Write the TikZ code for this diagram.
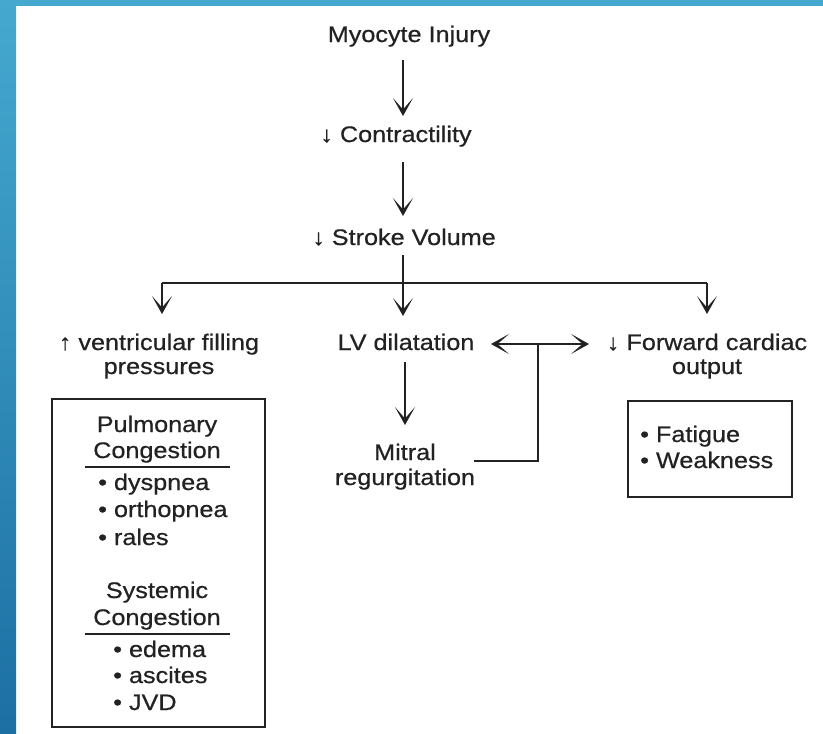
\documentclass[tikz,border=0pt]{standalone}
\usepackage{fontspec}
\setmainfont{Liberation Sans}[FakeStretch=1.12,FakeBold=0.6]
\usetikzlibrary{arrows.meta}
\definecolor{ink}{HTML}{222222}
\definecolor{bluetop}{HTML}{45A9CF}
\definecolor{bluebot}{HTML}{1C6FA3}
\newcommand\dfont{\fontsize{22.5}{26}\selectfont}
\tikzset{
  tip/.tip={Stealth[length=18pt,width=20pt,inset=11.5pt]},
  txt/.style={inner sep=0pt, anchor=base, font=\dfont, text=ink},
  ltxt/.style={txt, anchor=base west},
  arr/.style={draw=ink, line width=2.3pt, -tip},
  darr/.style={draw=ink, line width=2.3pt, tip-tip},
  conn/.style={draw=ink, line width=2.3pt},
  boxstyle/.style={draw=ink, line width=2.6pt},
  rule/.style={draw=ink, line width=2.6pt}
}
\begin{document}
\begin{tikzpicture}[x=1pt,y=-1pt]
\useasboundingbox (0,0) rectangle (823,734);
\fill[white] (0,0) rectangle (823,734);
% blue frame
\fill[bluetop] (0,0) rectangle (823,6);
\shade[top color=bluetop, bottom color=bluebot] (0,0) rectangle (16,734);

% main column
\node[txt] (myo) at (409,42) {Myocyte Injury};
\node[txt] (con) at (396,142) {↓ Contractility};
\node[txt] (sv) at (404,245) {↓ Stroke Volume};

\coordinate (a1s) at (403,60);  \coordinate (a1e) at (403,116);
\coordinate (a2s) at (403,162); \coordinate (a2e) at (403,216);
\coordinate (svb) at (403,255);
\coordinate (bm) at (403,283);
\coordinate (bl) at (162,283);
\coordinate (br) at (707,283);
\coordinate (tl) at (162,314);
\coordinate (tm) at (403,316);
\coordinate (tr) at (707,314);

\draw[arr] (a1s) -- (a1e);
\draw[arr] (a2s) -- (a2e);
\draw[conn] (svb) -- (bm);
\draw[conn] (bl) -- (br);
\draw[arr] (bl) -- (tl);
\draw[arr] (bm) -- (tm);
\draw[arr] (br) -- (tr);

% second row
\node[txt] (vf1) at (159,350) {↑ ventricular filling};
\node[txt] (vf2) at (159,374) {pressures};
\node[txt] (lv) at (406,350) {LV dilatation};
\node[txt] (fc1) at (707,350) {↓ Forward cardiac};
\node[txt] (fc2) at (707,374) {output};
\node[txt] (mr1) at (405,460) {Mitral};
\node[txt] (mr2) at (405,485) {regurgitation};

\coordinate (lvs) at (405,362);
\coordinate (lve) at (405,425);
\coordinate (dl) at (491,344);
\coordinate (dr) at (589,344);
\coordinate (jn) at (538,344);
\coordinate (mrs) at (474,461);
\coordinate (mrc) at (538,461);

\draw[arr] (lvs) -- (lve);
\draw[darr] (dl) -- (dr);
\draw[conn] (mrs) -- (mrc) -- (jn);

% left box
\node[boxstyle, minimum width=213pt, minimum height=328pt, inner sep=0pt] (lbox) at (158.5,563) {};
\node[txt] (pul1) at (157,432) {Pulmonary};
\node[txt] (pul2) at (157,458) {Congestion};
\coordinate (u1l) at (85,467); \coordinate (u1r) at (230,467);
\draw[rule] (u1l) -- (u1r);
\node[ltxt] (b1) at (98,490) {• dyspnea};
\node[ltxt] (b2) at (98,517) {• orthopnea};
\node[ltxt] (b3) at (98,545) {• rales};
\node[txt] (sys1) at (157,598) {Systemic};
\node[txt] (sys2) at (157,625) {Congestion};
\coordinate (u2l) at (85,634); \coordinate (u2r) at (230,634);
\draw[rule] (u2l) -- (u2r);
\node[ltxt] (b4) at (113,657) {• edema};
\node[ltxt] (b5) at (113,683) {• ascites};
\node[ltxt] (b6) at (113,710) {• JVD};

% right box
\node[boxstyle, minimum width=164pt, minimum height=96pt, inner sep=0pt] (rbox) at (710,449) {};
\node[ltxt] (r1) at (640,442) {• Fatigue};
\node[ltxt] (r2) at (640,468) {• Weakness};
\end{tikzpicture}
\end{document}
